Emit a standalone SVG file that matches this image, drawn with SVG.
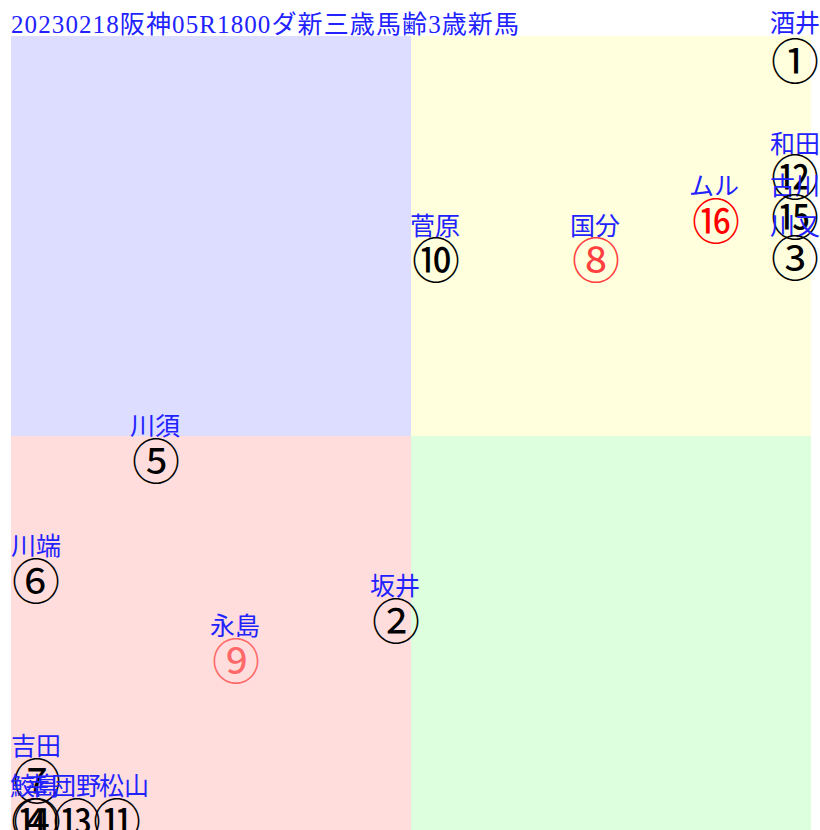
<svg xmlns="http://www.w3.org/2000/svg" width="820" height="830" viewBox="0 0 820 830">
<style>
.lbl{font-family:"Liberation Serif","Noto Sans CJK JP",serif;font-size:25px;fill:#2222ff;text-anchor:middle}
.num{font-family:"Noto Sans CJK JP",sans-serif;font-size:48px;text-anchor:middle;dominant-baseline:central}
.k{fill:#000}
.r{fill:#ff0000}
.r2{fill:#ff4040}
.r3{fill:#ff6868}
</style>
<rect x="0" y="0" width="820" height="830" fill="#ffffff"/>
<g id="quadrants">
<rect x="11" y="36" width="400" height="400" fill="#ddddff"/>
<rect x="411" y="36" width="400" height="400" fill="#ffffdd"/>
<rect x="11" y="436" width="400" height="400" fill="#ffdddd"/>
<rect x="411" y="436" width="400" height="400" fill="#ddffdd"/>
</g>
<text id="title" x="11" y="33" font-family="Liberation Serif, Noto Sans CJK JP, serif" font-size="25" fill="#2222ff" textLength="508" lengthAdjust="spacing">20230218阪神05R1800ダ新三歳馬齢3歳新馬</text>
<g id="connectors"></g>
<g id="n1"><text class="lbl" x="795" y="32">酒井</text><text class="num k" x="795" y="58">①</text></g>
<g id="n12"><text class="lbl" x="795" y="153">和田</text><text class="num k" x="795" y="174">⑫</text></g>
<g id="n15"><text class="lbl" x="795" y="195">古川</text><text class="num k" x="795" y="214">⑮</text></g>
<g id="n3"><text class="lbl" x="795" y="235">川又</text><text class="num k" x="795" y="255">③</text></g>
<g id="n16"><text class="lbl" x="714" y="195">ムル</text><text class="num r" x="716" y="218">⑯</text></g>
<g id="n10"><text class="lbl" x="435" y="235">菅原</text><text class="num k" x="436" y="257">⑩</text></g>
<g id="n8"><text class="lbl" x="595" y="235">国分</text><text class="num r2" x="596" y="257">⑧</text></g>
<g id="n5"><text class="lbl" x="155" y="435">川須</text><text class="num k" x="156" y="458">⑤</text></g>
<g id="n6"><text class="lbl" x="36" y="555">川端</text><text class="num k" x="36" y="578">⑥</text></g>
<g id="n2"><text class="lbl" x="395" y="595">坂井</text><text class="num k" x="396" y="618">②</text></g>
<g id="n9"><text class="lbl" x="235" y="635">永島</text><text class="num r3" x="236" y="658">⑨</text></g>
<g id="n7"><text class="lbl" x="36" y="755">吉田</text><text class="num k" x="37" y="778">⑦</text></g>
<g id="n14"><text class="lbl" x="35" y="795">鮫島</text><text class="num k" x="35" y="818">⑭</text></g>
<g id="n4"><text class="lbl" x="37" y="795">幸</text><text class="num k" x="37" y="818">④</text></g>
<g id="n13"><text class="lbl" x="76" y="795">団野</text><text class="num k" x="77" y="818">⑬</text></g>
<g id="n11"><text class="lbl" x="124" y="795">松山</text><text class="num k" x="117" y="818">⑪</text></g>
</svg>
